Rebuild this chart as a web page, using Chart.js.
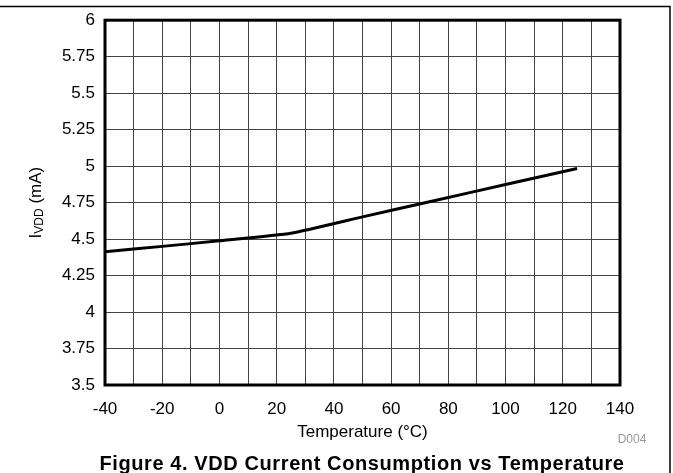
<!DOCTYPE html>
<html>
<head>
<meta charset="utf-8">
<script src="https://cdn.jsdelivr.net/npm/chart.js@4.4.1/dist/chart.umd.min.js"></script>
<style>
  html,body{margin:0;padding:0;background:#fff;}
  #wrap{width:673px;height:473px;position:relative;}
</style>
</head>
<body>
<div id="wrap"><canvas id="c" width="673" height="473"></canvas></div>
<script>
// temperature (°C) vs supply current (mA)
const temps = [-40, -20, 0, 25, 50, 75, 100, 125];
const iVdd  = [4.413, 4.45, 4.488, 4.54, 4.652, 4.763, 4.874, 4.984];

const xMin = -40, xMax = 140, xStep = 10;
const yMin = 3.5, yMax = 6, yStep = 0.25;

const FONT = 'Liberation Sans, Arial, sans-serif';

// frame + titles drawn on the canvas
const decor = {
  id: 'decor',
  beforeDraw(chart){
    const c = chart.ctx;
    c.save();
    c.strokeStyle = '#000'; c.lineWidth = 1.5;
    c.beginPath();
    c.moveTo(0, 6.5); c.lineTo(670, 6.5); c.lineTo(670, 473);
    c.stroke();
    c.restore();
  },
  afterDraw(chart){
    const c = chart.ctx, a = chart.chartArea;
    c.save();
    c.fillStyle = '#000';
    // y title with subscript
    c.translate(36, (a.top + a.bottom)/2);
    c.rotate(-Math.PI/2);
    c.textBaseline = 'middle';
    const big = '17px ' + FONT, small = '12px ' + FONT;
    c.font = big; const wI = c.measureText('I').width, wR = c.measureText(' (mA)').width;
    c.font = small; const wS = c.measureText('VDD').width;
    let x = -(wI + wS + wR)/2;
    c.textAlign = 'left';
    c.font = big; c.fillText('I', x, 0); x += wI;
    c.font = small; c.fillText('VDD', x, 4); x += wS;
    c.font = big; c.fillText(' (mA)', x, 0);
    c.restore();

    c.save();
    c.textAlign = 'center'; c.textBaseline = 'middle';
    c.fillStyle = '#000';
    c.font = '17px ' + FONT;
    c.fillText('Temperature (\u00B0C)', (a.left + a.right)/2, 432);
    c.fillStyle = '#999';
    c.font = '12px ' + FONT;
    c.fillText('D004', 632, 440);
    c.fillStyle = '#000';
    c.font = 'bold 20px ' + FONT;
    c.letterSpacing = '0.6px';
    c.fillText('Figure 4. VDD Current Consumption vs Temperature', 362, 464);
    c.restore();

    // plot frame
    c.save();
    c.strokeStyle = '#000'; c.lineWidth = 3;
    c.strokeRect(a.left, a.top, a.right - a.left, a.bottom - a.top);
    c.restore();
  }
};

new Chart(document.getElementById('c'), {
  type: 'line',
  data: {
    datasets: [{
      data: temps.map((t, i) => ({x: t, y: iVdd[i]})),
      borderColor: '#000',
      borderWidth: 3,
      pointRadius: 0,
      tension: 0.15,
      fill: false
    }]
  },
  options: {
    responsive: false,
    animation: false,
    events: [],
    layout: { padding: { top: 20, right: 53, left: 0, bottom: 0 } },
    plugins: { legend: { display: false }, tooltip: { enabled: false } },
    scales: {
      x: {
        type: 'linear', min: xMin, max: xMax,
        afterFit(s){ s.height = 88; },
        border: { display: false },
        grid: { color: '#444', lineWidth: 1, drawTicks: false },
        ticks: {
          stepSize: xStep, autoSkip: false, maxRotation: 0,
          padding: 14, color: '#000', font: { family: FONT, size: 17 },
          callback: v => (v % 20 === 0 ? String(v) : '')
        }
      },
      y: {
        type: 'linear', min: yMin, max: yMax,
        afterFit(s){ s.width = 105; },
        border: { display: false },
        grid: { color: '#444', lineWidth: 1, drawTicks: false },
        ticks: {
          stepSize: yStep, autoSkip: false,
          padding: 10, color: '#000', font: { family: FONT, size: 17 },
          callback: v => String(v)
        }
      }
    }
  },
  plugins: [decor]
});
</script>
</body>
</html>
